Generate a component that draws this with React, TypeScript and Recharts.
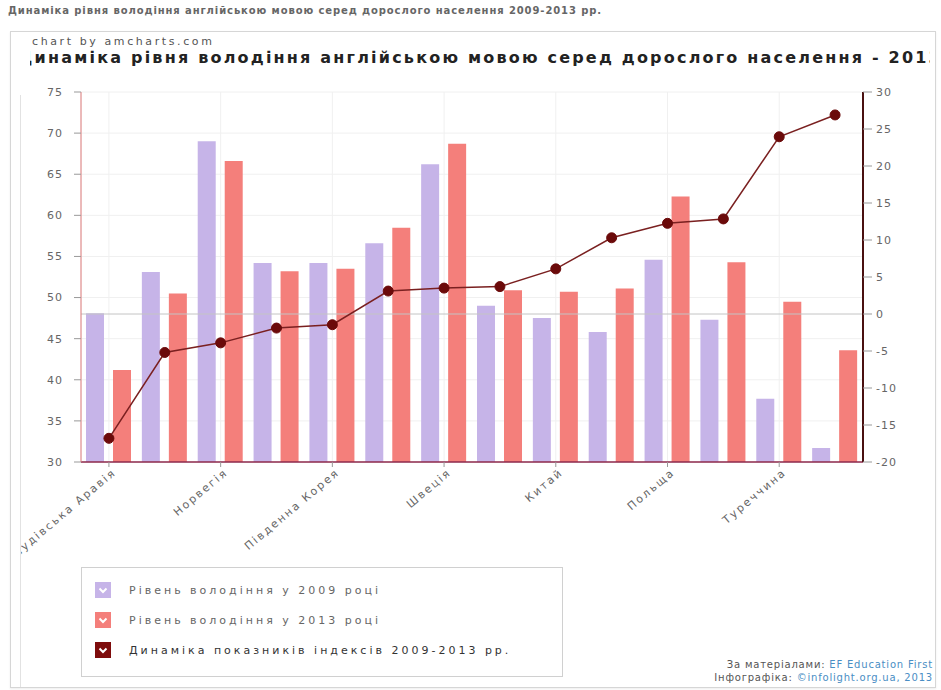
import React from 'react'
import {
  ComposedChart, Bar, Line, XAxis, YAxis, CartesianGrid, ReferenceLine,
} from 'recharts'

// країни (підписи по осі X показані через одну)
const countries = [
  'Саудівська Аравія', 'Франція', 'Норвегія', 'Японія', 'Південна Корея', 'Німеччина', 'Швеція',
  'Тайвань', 'Китай', 'Росія', 'Польща', 'Україна', 'Туреччина', 'Казахстан',
]
const level2009 = [48.1, 53.1, 69.0, 54.2, 54.2, 56.6, 66.2, 49.0, 47.5, 45.8, 54.6, 47.3, 37.7, 31.7]
const level2013 = [41.2, 50.5, 66.6, 53.2, 53.5, 58.5, 68.7, 50.9, 50.7, 51.1, 62.3, 54.3, 49.5, 43.6]
const dynamics = [-16.8, -5.2, -3.9, -1.9, -1.45, 3.1, 3.5, 3.7, 6.1, 10.3, 12.25, 12.85, 23.95, 26.9]

const leftTicks = [30, 35, 40, 45, 50, 55, 60, 65, 70, 75]
const rightTicks = [-20, -15, -10, -5, 0, 5, 10, 15, 20, 25, 30]

const series = [
  { key: 'v2009', name: 'Рівень володіння у 2009 році', color: '#c6b4e8' },
  { key: 'v2013', name: 'Рівень володіння у 2013 році', color: '#f47f7b' },
  { key: 'dyn', name: 'Динаміка показників індексів 2009-2013 рр.', color: '#7e0c0c' },
]

const data = countries.map((name, i) => ({
  name,
  v2009: level2009[i],
  v2013: level2013[i],
  dyn: dynamics[i],
}))

const FONT = '"DejaVu Sans", Verdana, sans-serif'
const tickStyle = { fill: '#666', fontSize: 11, fontFamily: FONT, letterSpacing: 1 }

const XTick = ({ x, y, payload }: any) => (
  <g transform={`translate(${x + 4},${y})`}>
    <text
      x={0}
      y={0}
      dy={6}
      textAnchor="end"
      transform="rotate(-40)"
      fill="#666"
      fontSize={11}
      fontFamily={FONT}
      letterSpacing={2}
    >
      {payload.value}
    </text>
  </g>
)

const Check = ({ color }: { color: string }) => (
  <svg width={16} height={16} style={{ display: 'block' }}>
    <rect width={16} height={16} fill={color} />
    <path d="M4.5 6.5 L8 10 L11.5 6.5" stroke="#fff" strokeWidth={2} fill="none" />
  </svg>
)

export default function App() {
  return (
    <div style={{ position: 'absolute', left: 0, top: 0, width: 941, height: 690, background: '#fff', fontFamily: FONT, overflow: 'hidden' }}>
      <div style={{ position: 'absolute', left: 8, top: 5, fontSize: 10, fontWeight: 'bold', color: '#666', whiteSpace: 'nowrap', letterSpacing: 0.9 }}>
        Динаміка рівня володіння англійською мовою серед дорослого населення 2009-2013 рр.
      </div>

      {/* рамка */}
      <div style={{ position: 'absolute', left: 10, top: 31, width: 924, height: 655, border: '1px solid #d6d6d6', boxShadow: '0 1px 2px #eee' }} />
      <div style={{ position: 'absolute', left: 20, top: 95, width: 0, height: 592, borderLeft: '1px solid #e2e2e2' }} />

      <div style={{ position: 'absolute', left: 32, top: 35, fontSize: 11, color: '#555', letterSpacing: 2.6, whiteSpace: 'nowrap' }}>
        chart by amcharts.com
      </div>
      <div style={{ position: 'absolute', left: 30, top: 48, width: 900, height: 24, overflow: 'hidden', display: 'flex', justifyContent: 'center' }}>
        <span style={{ fontSize: 16, fontWeight: 'bold', color: '#222', whiteSpace: 'nowrap', letterSpacing: 2.2, flexShrink: 0 }}>
          Динаміка рівня володіння англійською мовою серед дорослого населення - 2013
        </span>
      </div>

      <div style={{ position: 'absolute', left: 21, top: 32, width: 909, height: 535, overflow: 'hidden' }}>
        <ComposedChart
          width={909}
          height={535}
          data={data}
          margin={{ top: 60, right: 7, bottom: 5, left: 0 }}
          barGap={9}
        >
          <CartesianGrid yAxisId="left" stroke="#f0f0f0" />
          <XAxis
            dataKey="name"
            interval={1}
            height={100}
            tick={<XTick />}
            tickSize={5}
            tickLine={{ stroke: '#999' }}
            axisLine={{ stroke: '#8e2a4c', strokeWidth: 1.5 }}
          />
          <YAxis
            yAxisId="left"
            domain={[30, 75]}
            ticks={leftTicks}
            width={60}
            tickSize={7}
            tickMargin={11}
            tick={tickStyle}
            tickLine={{ stroke: '#999' }}
            axisLine={{ stroke: '#e07c7c' }}
          />
          <YAxis
            yAxisId="right"
            orientation="right"
            domain={[-20, 30]}
            ticks={rightTicks}
            width={60}
            tickSize={9}
            tickMargin={4}
            tick={tickStyle}
            tickLine={{ stroke: '#999' }}
            axisLine={{ stroke: '#4a1010', strokeWidth: 2 }}
          />
          <ReferenceLine yAxisId="right" y={0} stroke="#c4c4c4" />
          <Bar yAxisId="left" dataKey="v2009" name={series[0].name} fill={series[0].color} barSize={18} isAnimationActive={false} />
          <Bar yAxisId="left" dataKey="v2013" name={series[1].name} fill={series[1].color} barSize={18} isAnimationActive={false} />
          <Line
            yAxisId="right"
            type="linear"
            dataKey="dyn"
            name={series[2].name}
            stroke="#7a2020"
            strokeWidth={1.5}
            dot={{ r: 5, fill: '#6b0a0a', stroke: '#6b0a0a', strokeWidth: 1 }}
            isAnimationActive={false}
          />
        </ComposedChart>
      </div>

      {/* легенда */}
      <div style={{ position: 'absolute', left: 81, top: 567, width: 480, height: 108, border: '1px solid #d0d0d0' }}>
        {series.map((s, i) => (
          <div key={s.key} style={{ position: 'absolute', left: 13, top: 14 + i * 30, display: 'flex', alignItems: 'center' }}>
            <Check color={s.color} />
            <span style={{ marginLeft: 18, fontSize: 11, color: i === 2 ? '#333' : '#666', letterSpacing: 3, whiteSpace: 'nowrap' }}>{s.name}</span>
          </div>
        ))}
      </div>

      <div style={{ position: 'absolute', right: 8, top: 658, fontSize: 10, color: '#555', letterSpacing: 0.8, textAlign: 'right', lineHeight: '13px', whiteSpace: 'nowrap' }}>
        <div>За матеріалами: <span style={{ color: '#4a8ec4' }}>EF Education First</span></div>
        <div>Інфографіка: <span style={{ color: '#4a8ec4' }}>©infolight.org.ua, 2013</span></div>
      </div>
    </div>
  )
}
